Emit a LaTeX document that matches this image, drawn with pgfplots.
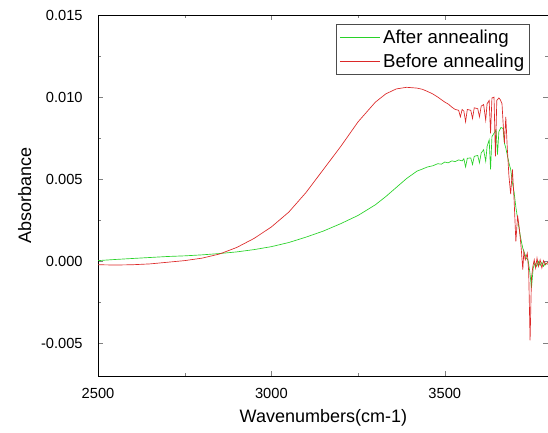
\documentclass[border=0pt]{standalone}
\usepackage{pgfplots}
\pgfplotsset{compat=1.18}
\usepackage{fontspec}
\setmainfont{Liberation Sans}
\definecolor{aftergreen}{RGB}{40,210,40}
\definecolor{beforered}{RGB}{220,40,40}

\begin{document}
\begin{tikzpicture}
\begin{axis}[
  name=ax,
  width=338pt, height=271pt,
  scale only axis,
  xmin=2500, xmax=3800,
  ymin=-0.007, ymax=0.015,
  xtick={2500,3000,3500},
  minor x tick num=1,
  ytick={-0.005,0,0.005,0.010,0.015},
  minor y tick num=1,
  tick align=inside,
  major tick length=4pt,
  minor tick length=2.5pt,
  scaled y ticks=false,
  /pgf/number format/assume math mode=true,
  xticklabel style={/pgf/number format/1000 sep={}, yshift=-5pt},
  yticklabel style={xshift=-8pt, /pgf/number format/fixed, /pgf/number format/fixed zerofill, /pgf/number format/precision=3},
  tick label style={font=\fontsize{11}{13}\selectfont},
  xlabel={Wavenumbers(cm-1)},
  ylabel={Absorbance},
  every axis x label/.style={at={(axis description cs:0.5,-0.0775)}, anchor=north,
    font=\fontsize{13.5}{16}\selectfont},
  every axis y label/.style={at={(axis description cs:-0.1376,0.5)}, anchor=south, rotate=90,
    font=\fontsize{13.5}{16}\selectfont},
  axis line style={line width=0.6pt},
  legend style={at={(0.958,0.975)}, anchor=north east, draw=black!70,
    font=\fontsize{14}{16}\selectfont, inner sep=2pt, row sep=2.5pt},
  legend cell align=left,
  legend image code/.code={\draw[#1, line width=0.8pt] (0pt,0pt) -- (30pt,0pt);},
]
\addplot[color=aftergreen, line width=0.5pt] coordinates {
(2500,0.00005)(2550,0.00012)(2600,0.00018)(2650,0.00024)(2700,0.00030)
(2750,0.00034)(2800,0.00040)(2850,0.00048)(2900,0.00058)(2950,0.00072)
(3000,0.00090)(3050,0.00115)(3100,0.00148)(3150,0.00185)(3200,0.00230)
(3250,0.00280)(3300,0.00345)(3330,0.00395)(3360,0.00450)(3390,0.00505)
(3420,0.00550)(3435,0.00562)(3450,0.00575)(3465,0.00582)(3480,0.00595)
(3490,0.00592)(3500,0.00605)(3510,0.00600)
(3520,0.00612)(3530,0.00608)(3540,0.00618)(3550,0.00612)(3555,0.00625)
(3560,0.00575)(3565,0.00628)(3575,0.00630)(3580,0.00590)(3585,0.00640)
(3595,0.00645)(3600,0.00600)(3605,0.00660)(3612,0.00680)(3618,0.00610)
(3622,0.00700)(3628,0.00740)(3632,0.00560)(3636,0.00760)(3642,0.00780)
(3648,0.00800)(3652,0.00650)(3656,0.00790)(3662,0.00815)(3668,0.00810)
(3672,0.00720)(3676,0.00690)(3680,0.00650)(3685,0.00600)(3690,0.00560)
(3695,0.00480)(3700,0.00420)(3705,0.00330)(3710,0.00260)(3715,0.00190)
(3720,0.00130)(3725,0.00080)(3730,0.00050)(3735,0.00020)(3740,0.00010)
(3745,-0.00060)(3750,-0.00160)(3755,-0.00040)(3760,-0.00010)(3765,-0.00030)
(3770,0.00000)(3775,-0.00025)(3780,-0.00005)(3785,-0.00030)(3790,-0.00010)
(3800,-0.00020)
};
\addlegendentry{After annealing}
\addplot[color=beforered, line width=0.5pt] coordinates {
(2500,-0.00020)(2550,-0.00022)(2600,-0.00020)(2650,-0.00015)(2700,-0.00005)
(2750,0.00005)(2800,0.00020)(2850,0.00045)(2900,0.00085)(2950,0.00140)
(3000,0.00210)(3050,0.00300)(3100,0.00420)(3150,0.00560)(3200,0.00700)
(3250,0.00850)(3300,0.00970)(3330,0.01020)(3360,0.01050)(3390,0.01060)
(3420,0.01055)(3435,0.01048)(3450,0.01035)(3465,0.01020)(3480,0.01000)
(3490,0.00985)(3500,0.00970)(3510,0.00958)(3520,0.00940)
(3530,0.00925)(3540,0.00920)(3545,0.00880)(3550,0.00925)(3555,0.00915)
(3560,0.00850)(3565,0.00925)(3575,0.00920)(3580,0.00870)(3585,0.00935)
(3595,0.00930)(3600,0.00880)(3605,0.00945)(3612,0.00955)(3618,0.00860)
(3622,0.00960)(3628,0.00980)(3632,0.00780)(3636,0.00995)(3642,0.01000)
(3646,0.00640)(3650,0.00980)(3656,0.00995)(3660,0.00985)(3665,0.00960)
(3668,0.00850)(3672,0.00720)(3676,0.00880)(3680,0.00700)(3685,0.00520)
(3690,0.00410)(3695,0.00560)(3700,0.00370)(3705,0.00120)(3710,0.00280)
(3715,0.00200)(3720,0.00090)(3725,-0.00050)(3728,0.00060)(3732,0.00010)
(3738,0.00050)(3742,-0.00060)(3746,-0.00480)(3750,-0.00100)(3754,-0.00030)
(3758,0.00010)(3762,-0.00040)(3766,0.00020)(3770,-0.00030)(3775,0.00010)
(3780,-0.00040)(3785,0.00005)(3790,-0.00020)(3800,0.00000)
};
\addlegendentry{Before annealing}
\end{axis}
\pgfresetboundingbox
\useasboundingbox ([xshift=-73.5pt,yshift=-42pt]ax.south west) rectangle ([xshift=-0.6pt,yshift=11.25pt]ax.north east);
\end{tikzpicture}
\end{document}
